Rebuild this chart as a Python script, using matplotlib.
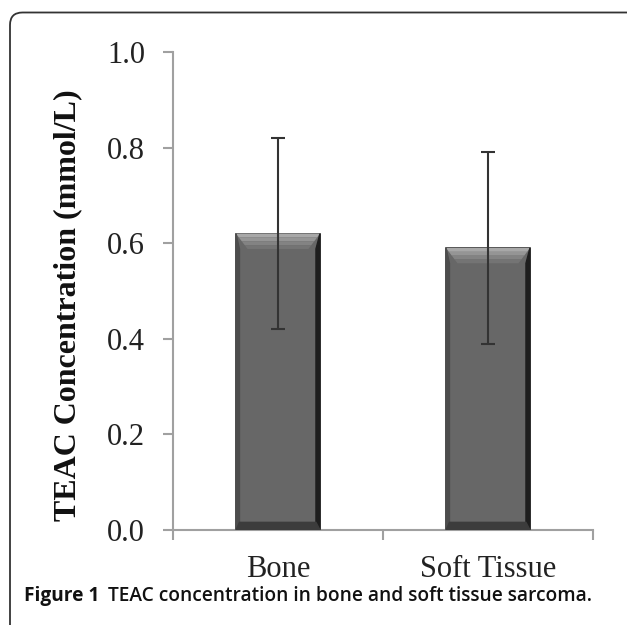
import numpy as np
import matplotlib.pyplot as plt
from matplotlib.patches import Polygon, FancyBboxPatch

categories = ["Bone", "Soft Tissue"]
means = [0.62, 0.59]
sd = [0.20, 0.20]
yticks = [0.0, 0.2, 0.4, 0.6, 0.8, 1.0]

fig = plt.figure(figsize=(6.27, 6.25), dpi=100)

# rounded frame around the figure panel
frame = FancyBboxPatch((10 / 627, -0.1), 1.2, 1.08, boxstyle="round,pad=0,rounding_size=0.02",
                       transform=fig.transFigure, fill=False, ec="#333333", lw=1.3)
fig.patches.append(frame)

ax = fig.add_axes([173 / 627, 1 - 530 / 625, 420 / 627, 478 / 625])
x = np.arange(len(categories))
w = 0.4
bars = ax.bar(x, means, width=w, color="#676767", edgecolor="#3a3a3a", lw=1.2, zorder=2)

# bevel shading on each bar (top bevel as a few bands for a soft gradient)
bx, by = 0.055, 0.032
shades = ["#a8a8a8", "#959595", "#838383", "#747474"]
for b in bars:
    x0, x1, h = b.get_x(), b.get_x() + b.get_width(), b.get_height()
    n = len(shades)
    for i, c in enumerate(shades):
        f0, f1 = i / n, (i + 1) / n
        ax.add_patch(Polygon([[x0 + bx * f0, h - by * f0], [x1 - bx * f0, h - by * f0],
                              [x1 - bx * f1, h - by * f1], [x0 + bx * f1, h - by * f1]],
                             color=c, lw=0, zorder=3))
    right = Polygon([[x1, h], [x1, 0], [x1 - bx * 0.35, by * 0.5], [x1 - bx * 0.35, h - by]], color="#1e1e1e", zorder=3)
    left = Polygon([[x0, h], [x0, 0], [x0 + bx * 0.3, by * 0.5], [x0 + bx * 0.3, h - by]], color="#4d4d4d", zorder=3)
    bottom = Polygon([[x0, 0], [x1, 0], [x1 - bx * 0.35, by * 0.5], [x0 + bx * 0.3, by * 0.5]], color="#3c3c3c", zorder=3)
    for p in (right, left, bottom):
        ax.add_patch(p)

ax.errorbar(x, means, yerr=sd, fmt="none", ecolor="#333333", elinewidth=1.5,
            capsize=5, capthick=1.5, zorder=4)

ax.set_xlim(-0.5, len(categories) - 0.5)
ax.set_ylim(0, 1.0)
ax.set_yticks(yticks)
ax.set_yticklabels([f"{v:.1f}" for v in yticks])
ax.set_xticks(x)
ax.set_xticklabels(categories)
ax.set_xticks(np.arange(len(categories) + 1) - 0.5, minor=True)

for s in ["top", "right"]:
    ax.spines[s].set_visible(False)
for s in ["left", "bottom"]:
    ax.spines[s].set_color("#a0a0a0")
    ax.spines[s].set_linewidth(1.5)

serif = ["Liberation Serif", "DejaVu Serif"]
ax.tick_params(axis="y", direction="out", length=7, width=1.5, color="#a0a0a0", pad=13)
ax.tick_params(axis="x", which="major", length=0, pad=18)
ax.tick_params(axis="x", which="minor", direction="out", length=7, width=1.5, color="#a0a0a0")
for lab in ax.get_xticklabels() + ax.get_yticklabels():
    lab.set_fontfamily(serif)
    lab.set_fontsize(22)
    lab.set_color("#222222")

ax.set_ylabel("TEAC Concentration (mmol/L)", fontfamily=serif, fontweight="bold",
              fontsize=23, color="#111111")
ax.yaxis.set_label_coords(-0.216, 0.47)

fig.text(24 / 627, 1 - 596 / 625, "Figure 1", fontfamily="Open Sans", fontweight="bold",
         fontsize=13.8, va="center", ha="left", color="#111111")
fig.text(108 / 627, 1 - 596 / 625, "TEAC concentration in bone and soft tissue sarcoma.",
         fontfamily="Open Sans", fontweight="semibold", fontsize=13.8, va="center", ha="left",
         color="#111111")

fig.savefig("out.png", dpi=100)
